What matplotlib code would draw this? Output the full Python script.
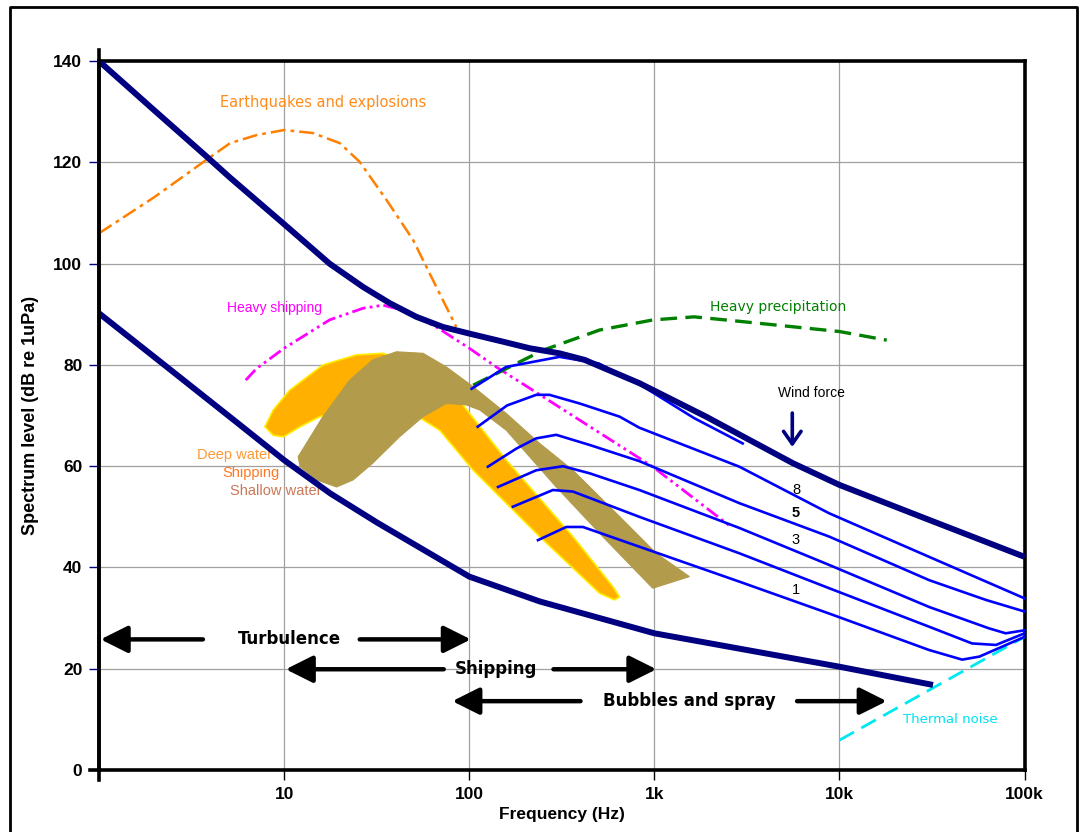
# Wenz curves - ambient noise spectrum in the ocean
import matplotlib
matplotlib.use('Agg')
import matplotlib.pyplot as plt
from matplotlib.lines import Line2D
from matplotlib.patches import Polygon
import numpy as np

plt.rcParams['font.family'] = ['Liberation Sans', 'DejaVu Sans']

# limits of prevailing noise (thick navy)
upper_f = [1, 2, 3.8, 5.1, 10, 17.6, 26.7, 37.2, 51.8, 72.1, 100, 152, 212, 307, 420, 830,
           1900, 5600, 10000, 30500, 100000]
upper_db = [140, 130.2, 121.2, 117.0, 107.8, 100.0, 95.4, 92.2, 89.5, 87.5, 86.2, 84.6, 83.3, 82.3,
            81, 76.4, 69.8, 60.6, 56.3, 49.4, 42.1]
lower_f = [1, 2, 5.4, 10, 17.8, 32, 61, 100, 240, 1000, 10000, 32000]
lower_db = [90.2, 81.5, 69, 61.2, 54.6, 48.8, 42.8, 38.2, 33.3, 27, 20.4, 16.8]

# earthquakes and explosions
quake_f = [1, 2, 3.8, 5.1, 7.1, 10, 14.3, 20, 25.6, 35.7, 49.7, 66.4, 85.1]
quake_db = [106, 113.2, 120.5, 123.8, 125.4, 126.4, 125.8, 123.8, 120.1, 112.6, 104.7, 95.4, 87.5]

# heavy shipping
ship_f = [6.2, 7.1, 10, 17.6, 26.7, 34.2, 43.9, 66.4, 100, 140, 980, 2600]
ship_db = [77, 79.3, 83.3, 88.9, 91.2, 91.8, 90.8, 87.5, 83.3, 79.6, 59.9, 48]

# heavy precipitation
rain_f = [105, 250, 506, 985, 1640, 3100, 10000, 18000]
rain_db = [76, 82.9, 86.9, 88.9, 89.5, 88.5, 86.6, 84.9]

# thermal noise
therm_f = [10000, 100000]
therm_db = [5.9, 26.3]

# wind force curves (top to bottom)
wind_curves = [
    ([103, 158, 307, 500, 830, 1640, 3000],
     [75.3, 79.6, 81.6, 80.3, 76.2, 69.5, 64.5]),
    ([111, 160, 230, 271, 394, 648, 830, 2880, 8800, 30500, 100000],
     [67.8, 72, 74.1, 74.1, 72.4, 69.8, 67.6, 59.9, 50.7, 42.1, 33.9]),
    ([126, 180, 230, 295, 447, 830, 2880, 8800, 30500, 61700, 100000],
     [59.9, 63.5, 65.5, 66.2, 64.2, 61, 52.7, 46.1, 37.5, 33.6, 31.3]),
    ([143, 230, 321, 447, 830, 2880, 8800, 30500, 64000, 79000, 100000],
     [55.9, 59.2, 60.0, 58.6, 55.3, 47.8, 40.5, 32.2, 28.0, 27.0, 27.6]),
    ([172, 283, 363, 830, 2880, 8800, 30500, 52000, 70000, 100000],
     [52.0, 55.3, 55.0, 50.0, 42.8, 35.9, 28.3, 25.0, 24.7, 27.0]),
    ([235, 334, 411, 830, 2880, 8800, 30500, 46000, 57000, 100000],
     [45.4, 48.0, 48.0, 44.1, 37.2, 30.9, 23.7, 21.8, 22.4, 26.3]),
]
wind_labels = ['8', '5', '3', '1']
wind_label_db = [55.3, 50.7, 45.4, 35.5]

# shipping bands (outline)
deep_f = [7.87, 8.73, 10.7, 16.2, 24.6, 34.2, 49.7, 69.2, 92.5, 158.6, 363, 597, 648, 609,
          506, 240, 105, 69.2, 55, 42, 27.9, 15.6, 12.2, 9.9, 8.73]
deep_db = [67.8, 71.1, 75.0, 80.0, 82.0, 82.3, 80.3, 76.4, 72.1, 61.2, 46.1, 36.2, 34.2, 33.6,
           34.9, 46.1, 59.2, 67.1, 69.4, 71.1, 71.7, 69.8, 67.8, 65.8, 66.1]
shallow_f = [11.9, 12.2, 16.2, 22.6, 30.1, 40.4, 56.3, 75.2, 105, 158.6, 240, 363, 676, 1023, 1546,
             980, 549, 295, 158.6, 114, 96.4, 75.2, 56.3, 42, 30.1, 23.6, 19.2, 15.0, 12.2]
shallow_db = [61.9, 62.5, 69.8, 77.0, 81.0, 82.6, 82.3, 79.6, 75.7, 70.4, 64.5, 59.2, 49.4, 42.8, 38.2,
              35.9, 45.4, 55.9, 67.1, 71.1, 72.1, 72.4, 69.8, 65.8, 60.6, 57.3, 55.9, 57.3, 59.9]

xtick_vals = [10, 100, 1000, 10000, 100000]
xtick_text = ['10', '100', '1k', '10k', '100k']
ytick_vals = [0, 20, 40, 60, 80, 100, 120, 140]

navy = '#000080'

fig = plt.figure(figsize=(10.8, 8.32), dpi=100)
ax = fig.add_axes([0.0917, 0.0745, 0.857, 0.852])
ax.set_xscale('log')
ax.set_xlim(1, 100000)
ax.set_ylim(0, 140)

ax.grid(True, which='major', color='#a0a0a0', lw=0.9, zorder=0)
ax.set_axisbelow(True)
ax.minorticks_off()
ax.set_xticks(xtick_vals)
ax.set_xticklabels(xtick_text)
ax.set_yticks(ytick_vals)
ax.tick_params(axis='y', direction='out', length=7, width=1, color=navy, pad=5,
               labelsize=12.5)
ax.tick_params(axis='x', direction='out', length=7, width=1, color='k', pad=5,
               labelsize=12.5)
for lab in ax.get_xticklabels() + ax.get_yticklabels():
    lab.set_fontweight('bold')
for s in ax.spines.values():
    s.set_linewidth(2.6)
    s.set_color('k')
# left and bottom axis lines run a bit past the box
ax.plot([0, 0], [-0.014, 1.016], transform=ax.transAxes, color='k', lw=2.6,
        clip_on=False, zorder=10)
ax.plot([-0.01, 0], [0, 0], transform=ax.transAxes, color='k', lw=2.6,
        clip_on=False, zorder=10)

# shipping bands
ax.add_patch(Polygon(list(zip(deep_f, deep_db)), closed=True, facecolor='#ffb000',
                     edgecolor='#ffee00', lw=1.2, zorder=1))
ax.add_patch(Polygon(list(zip(shallow_f, shallow_db)), closed=True, facecolor='#b39b4c',
                     edgecolor='#b39b4c', lw=0.8, zorder=2))

ax.plot(quake_f, quake_db, color='#ff8000', lw=1.8, ls=(0, (6, 2, 1.5, 2)), zorder=3)
ax.plot(ship_f, ship_db, color='#ff00ff', lw=2.0, ls=(0, (5, 1.5, 1, 1.5, 1, 1.5)), zorder=3)
ax.plot(rain_f, rain_db, color='#008000', lw=2.4, ls=(0, (5, 2.5)), zorder=3)
ax.plot(therm_f, therm_db, color='#00e8f0', lw=2.0, ls=(0, (6, 3)), zorder=3)

for fq, db in wind_curves:
    ax.plot(fq, db, color='#0000ff', lw=1.9, zorder=4, solid_joinstyle='round')

ax.plot(upper_f, upper_db, color=navy, lw=4.3, zorder=5, solid_capstyle='butt',
        solid_joinstyle='round')
ax.plot(lower_f, lower_db, color=navy, lw=4.3, zorder=5, solid_capstyle='butt',
        solid_joinstyle='round')

# labels of the sources
ax.text(4.48, 131.9, 'Earthquakes and explosions', color='#ff8c1a', fontsize=10.5,
        family='DejaVu Sans', va='center', ha='left')
ax.text(4.91, 91.2, 'Heavy shipping', color='#ff00ff', fontsize=10, va='center', ha='left')
ax.text(2000, 91.5, 'Heavy precipitation', color='#008000', fontsize=10,
        family='DejaVu Sans', va='center', ha='left')
ax.text(22000, 9.9, 'Thermal noise', color='#00e0f0', fontsize=9.5,
        family='DejaVu Sans', va='center', ha='left')
ax.text(3.37, 62.2, 'Deep water', color='#ff9933', fontsize=10.5, va='center', ha='left')
ax.text(4.65, 58.7, 'Shipping', color='#ff7722', fontsize=10.5, va='center', ha='left')
ax.text(5.1, 55.2, 'Shallow water', color='#cc7755', fontsize=10.5, va='center', ha='left')

ax.text(7040, 74.4, 'Wind force', color='k', fontsize=10, va='center', ha='center')
ax.annotate('', xy=(5560, 63.8), xytext=(5560, 70.5),
            arrowprops=dict(arrowstyle='->,head_length=0.5,head_width=0.35', color=navy,
                            lw=2.6, mutation_scale=18, shrinkA=0, shrinkB=0))
for lab, db in zip(wind_labels, wind_label_db):
    ax.text(5820, db, lab, color='k', fontsize=10.5, va='center', ha='center',
            fontweight='bold' if lab == '5' else 'normal', zorder=6)

# ranges of the noise mechanisms
arrow_kw = dict(arrowstyle='-|>,head_length=1.1,head_width=0.55', color='k', lw=3.2,
                mutation_scale=15, shrinkA=0, shrinkB=0)
ranges = [
    ('Turbulence', 10.7, 25.8, (3.64, 1.02), (25.6, 102)),
    ('Shipping', 139, 19.9, (72.8, 10.2), (285, 1026)),
    ('Bubbles and spray', 1550, 13.6, (399, 81), (5900, 18000)),
]
for name, xc, yv, left, right in ranges:
    ax.text(xc, yv, name, fontsize=12, fontweight='bold', family='DejaVu Sans',
            ha='center', va='center', zorder=7)
    ax.annotate('', xy=(left[1], yv), xytext=(left[0], yv), arrowprops=arrow_kw, zorder=7)
    ax.annotate('', xy=(right[1], yv), xytext=(right[0], yv), arrowprops=arrow_kw, zorder=7)

ax.set_xlabel('Frequency (Hz)', fontsize=12.5, fontweight='bold', labelpad=4)
ax.set_ylabel('Spectrum level (dB re 1uPa)', fontsize=13, fontweight='bold', labelpad=10)

# outer frame (open at the bottom)
fig.add_artist(Line2D([0.0089, 0.0089, 0.9972, 0.9972], [0.0, 0.991, 0.991, 0.0],
                      transform=fig.transFigure, color='k', lw=2))

fig.savefig('out.png', dpi=100)
